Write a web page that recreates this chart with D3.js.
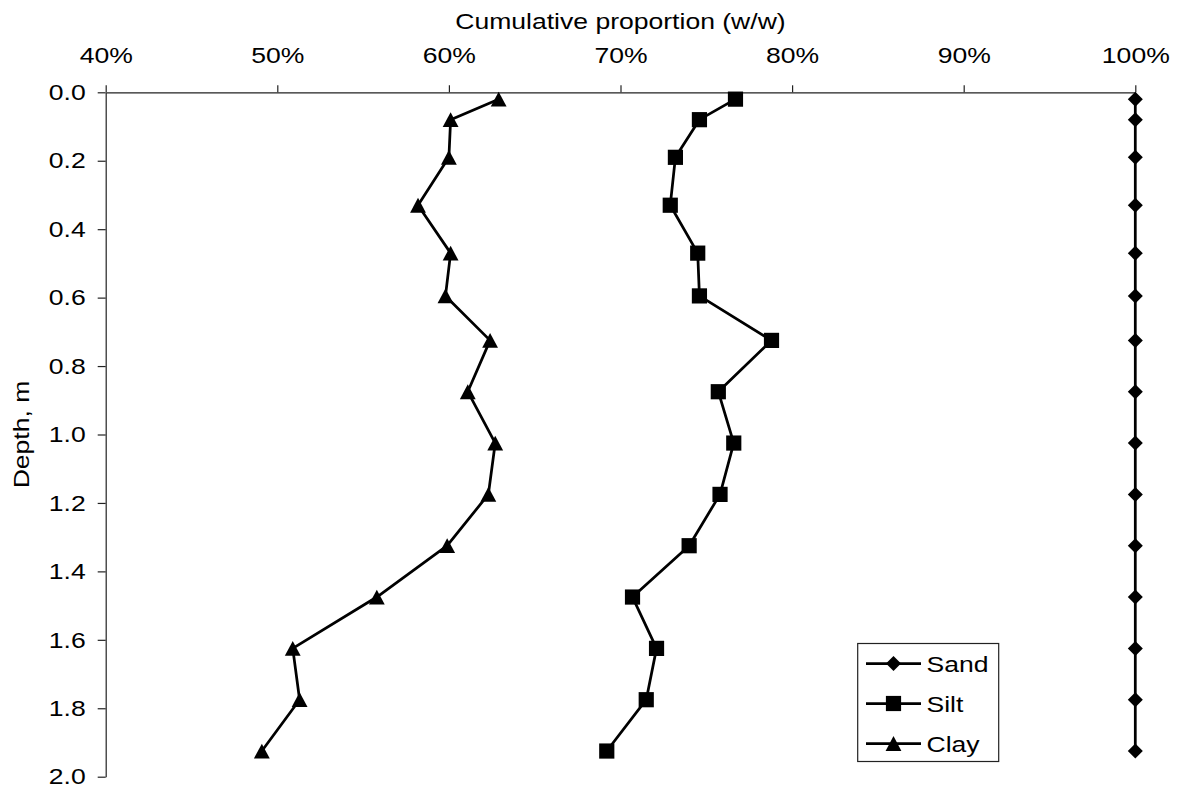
<!DOCTYPE html>
<html>
<head>
<meta charset="utf-8">
<script src="https://cdn.jsdelivr.net/npm/d3@7"></script>
<style>
  html, body { margin: 0; padding: 0; background: #fff; }
  svg { display: block; }
  text { font-family: "Liberation Sans", Arial, sans-serif; font-size: 22.5px; fill: #000; }
</style>
</head>
<body>
<svg id="chart" width="1180" height="791"></svg>
<script>
// Sampling depths (m) and cumulative proportions (% w/w)
const depths = [0.02, 0.08, 0.19, 0.33, 0.47, 0.595, 0.725, 0.875, 1.025, 1.175, 1.325, 1.475, 1.625, 1.775, 1.925];
const sand = [100, 100, 100, 100, 100, 100, 100, 100, 100, 100, 100, 100, 100, 100, 100];
const silt = [76.7, 74.6, 73.2, 72.9, 74.5, 74.6, 78.8, 75.7, 76.6, 75.8, 74.0, 70.7, 72.1, 71.5, 69.2];
const clay = [62.9, 60.1, 60.0, 58.2, 60.1, 59.8, 62.4, 61.1, 62.7, 62.3, 59.9, 55.8, 50.9, 51.3, 49.1];

const seriesNames = ["Sand", "Silt", "Clay"];
const xTicks = [40, 50, 60, 70, 80, 90, 100];
const yTicks = [0.0, 0.2, 0.4, 0.6, 0.8, 1.0, 1.2, 1.4, 1.6, 1.8, 2.0];
const xTitle = "Cumulative proportion (w/w)";
const yTitle = "Depth, m";

const svg = d3.select("#chart");
const plot = { left: 105.7, top: 92.3, right: 1135.3, bottom: 776.7 };

const x = d3.scaleLinear().domain([40, 100]).range([plot.left, plot.right]);
const y = d3.scaleLinear().domain([0, 2]).range([plot.top, plot.bottom]);

// Text in this chart is set slightly wide
const STRETCH = 1.18;
function widen(sel, origin) {
  sel.style("transform-box", "fill-box")
     .style("transform-origin", origin)
     .style("transform", `scaleX(${STRETCH})`);
}

// Axes
const xAxis = d3.axisTop(x).tickValues(xTicks).tickSize(7).tickSizeOuter(0)
  .tickPadding(22).tickFormat(d => d + "%");
const gx = svg.append("g").attr("transform", `translate(0,${plot.top})`).call(xAxis);

const yAxis = d3.axisLeft(y).tickValues(yTicks).tickSize(8).tickSizeOuter(0)
  .tickPadding(12).tickFormat(d3.format(".1f"));
const gy = svg.append("g").attr("transform", `translate(${plot.left},0)`).call(yAxis);

[gx, gy].forEach(g => {
  g.selectAll("path.domain").attr("stroke", "#222").attr("stroke-width", 1.2);
  g.selectAll(".tick line").attr("stroke", "#222").attr("stroke-width", 1.2);
  g.selectAll(".tick text").attr("font-size", null).attr("font-family", null).attr("fill", "#000");
  g.attr("font-size", null).attr("font-family", null);
});
gx.selectAll(".tick text").call(widen, "center");
gy.selectAll(".tick text").call(widen, "right center");

// Axis titles
svg.append("text")
  .attr("x", (plot.left + plot.right) / 2)
  .attr("y", 29.5)
  .attr("text-anchor", "middle")
  .text(xTitle)
  .call(widen, "center");

svg.append("g")
  .attr("transform", `translate(29,${(plot.top + plot.bottom) / 2}) rotate(-90)`)
  .append("text")
  .attr("text-anchor", "middle")
  .text(yTitle)
  .call(widen, "center");

// Marker shapes
const diamondType = { draw(ctx, r) { ctx.moveTo(0, -r); ctx.lineTo(r, 0); ctx.lineTo(0, r); ctx.lineTo(-r, 0); ctx.closePath(); } };
const squareType = { draw(ctx, r) { ctx.rect(-r, -r, 2 * r, 2 * r); } };
const triangleType = { draw(ctx, r) { ctx.moveTo(0, -r); ctx.lineTo(r * 1.07, r); ctx.lineTo(-r * 1.07, r); ctx.closePath(); } };

const series = [
  { name: seriesNames[0], values: sand, shape: diamondType, r: 7.5 },
  { name: seriesNames[1], values: silt, shape: squareType, r: 7.6 },
  { name: seriesNames[2], values: clay, shape: triangleType, r: 7.4 }
];

const line = d3.line().x(d => x(d.v)).y(d => y(d.depth));

series.forEach(s => {
  const pts = s.values.map((v, i) => ({ v, depth: depths[i] }));
  svg.append("path")
    .datum(pts)
    .attr("d", line)
    .attr("fill", "none")
    .attr("stroke", "#000")
    .attr("stroke-width", 2.75)
    .attr("stroke-linejoin", "round");
  svg.append("g").selectAll("path")
    .data(pts)
    .join("path")
    .attr("transform", d => `translate(${x(d.v)},${y(d.depth)})`)
    .attr("d", d3.symbol().type(s.shape).size(s.r))
    .attr("fill", "#000");
});

// Legend
const legend = svg.append("g");
legend.append("rect")
  .attr("x", 857.7).attr("y", 643.5)
  .attr("width", 141).attr("height", 118)
  .attr("fill", "#fff").attr("stroke", "#222").attr("stroke-width", 1.2);

const legendRowY = d3.scalePoint().domain(seriesNames).range([663.5, 743.5]);
series.forEach(s => {
  const ly = legendRowY(s.name);
  legend.append("line")
    .attr("x1", 866).attr("x2", 921).attr("y1", ly).attr("y2", ly)
    .attr("stroke", "#000").attr("stroke-width", 2.75);
  legend.append("path")
    .attr("transform", `translate(893.5,${ly})`)
    .attr("d", d3.symbol().type(s.shape).size(s.r))
    .attr("fill", "#000");
  legend.append("text")
    .attr("x", 926.5).attr("y", ly).attr("dy", "0.36em")
    .text(s.name)
    .call(widen, "left center");
});
</script>
</body>
</html>
